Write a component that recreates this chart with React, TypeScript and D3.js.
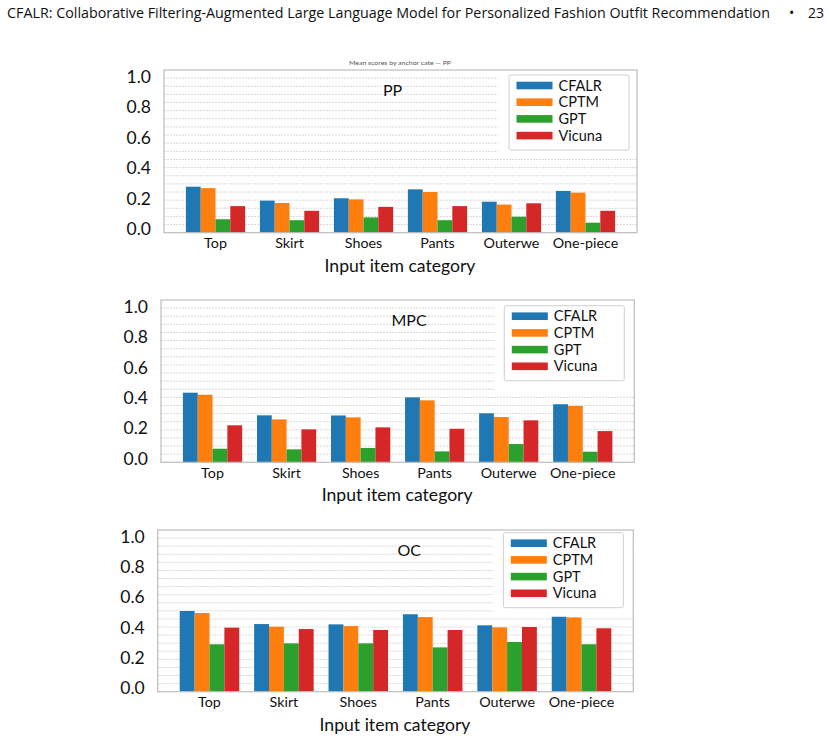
import React from "react";
import * as d3 from "d3";

// data (per category: CFALR, CPTM, GPT, Vicuna)
const categories = ["Top", "Skirt", "Shoes", "Pants", "Outerwe", "One-piece"];
const series = ["CFALR", "CPTM", "GPT", "Vicuna"];
const yTicks = [0, 0.2, 0.4, 0.6, 0.8, 1.0];

const ppValues = [
  [0.294, 0.285, 0.086, 0.17],
  [0.205, 0.19, 0.08, 0.14],
  [0.22, 0.213, 0.098, 0.165],
  [0.277, 0.26, 0.08, 0.17],
  [0.198, 0.18, 0.102, 0.188],
  [0.267, 0.256, 0.064, 0.14],
];
const mpcValues = [
  [0.446, 0.433, 0.087, 0.237],
  [0.301, 0.275, 0.083, 0.211],
  [0.3, 0.288, 0.092, 0.224],
  [0.416, 0.397, 0.07, 0.215],
  [0.314, 0.29, 0.117, 0.269],
  [0.372, 0.361, 0.068, 0.2],
];
const ocValues = [
  [0.519, 0.506, 0.305, 0.412],
  [0.435, 0.418, 0.311, 0.403],
  [0.433, 0.422, 0.311, 0.397],
  [0.498, 0.48, 0.285, 0.397],
  [0.427, 0.414, 0.32, 0.416],
  [0.482, 0.478, 0.305, 0.408],
];

const colors = ["#1f77b4", "#ff7f0e", "#2ca02c", "#d62728"];
const FONT = "Lato, 'Open Sans', sans-serif";

const panels = [
  { name: "PP", values: ppValues, left: 164, right: 637, top: 70, bottom: 232.7, nameX: 383, legendX: 509, legendY: 75, maskX: 498, maskBottom: 155, caption: "Mean scores by anchor cate — PP" },
  { name: "MPC", values: mpcValues, left: 161, right: 634.3, top: 300, bottom: 462.3, nameX: 391.5, legendX: 504.3, legendY: 305.7, maskX: 495, maskBottom: 390, caption: "" },
  { name: "OC", values: ocValues, left: 157.7, right: 633.3, top: 530, bottom: 691.7, nameX: 397.5, legendX: 503.3, legendY: 532.7, maskX: 494, maskBottom: 612, caption: "" },
];

type PanelProps = (typeof panels)[number];

const Panel = ({ p }: { p: PanelProps }) => {
  const x = d3.scaleBand<string>().domain(categories).range([p.left, p.right]).paddingInner(0).paddingOuter(0.196);
  const inner = d3
    .scaleBand<string>()
    .domain(series)
    .range([x.bandwidth() * 0.1, x.bandwidth() * 0.9])
    .padding(0);
  const y = d3.scaleLinear().domain([0, 1.04]).range([p.bottom, p.top]);
  const yLab = d3.scaleLinear().domain([0, 1]).range([p.bottom - 3.5, p.top + 6.5]);
  const grid = d3.scaleLinear().domain([0, 20]).range([p.bottom, p.top]);
  const w = p.right - p.left;
  const midX = (p.left + p.right) / 2;

  return (
    <g>
      <rect x={p.left} y={p.top} width={w} height={p.bottom - p.top} fill="#fff" />
      {d3.range(1, 20).map((k) => (
        <line key={k} x1={p.left} x2={p.right} y1={grid(k)} y2={grid(k)} stroke="#d9d9d9" strokeWidth={1} strokeDasharray="2,1" />
      ))}
      {/* white area behind the legend */}
      <rect x={p.maskX} y={p.top + 0.5} width={p.right - p.maskX - 0.5} height={p.maskBottom - p.top} fill="#fff" />
      {p.values.map((row, i) =>
        row.map((v, j) => (
          <rect
            key={`${i}-${j}`}
            x={(x(categories[i]) as number) + (inner(series[j]) as number)}
            y={y(v)}
            width={inner.bandwidth()}
            height={y(0) - y(v)}
            fill={colors[j]}
          />
        ))
      )}
      <rect x={p.left} y={p.top} width={w} height={p.bottom - p.top} fill="none" stroke="#bdbdbd" strokeWidth={1.2} />
      {yTicks.map((t) => (
        <text key={t} x={p.left - 13} y={yLab(t)} dy="0.35em" textAnchor="end" fontSize={17.5} fontFamily={FONT} fill="#111">
          {t.toFixed(1)}
        </text>
      ))}
      {categories.map((c) => (
        <text key={c} x={(x(c) as number) + x.bandwidth() / 2} y={p.bottom + 10.5} dy="0.35em" textAnchor="middle" fontSize={14.3} fontFamily={FONT} fill="#111">
          {c}
        </text>
      ))}
      <text x={midX - 0.5} y={p.bottom + 33} dy="0.35em" textAnchor="middle" fontSize={17.6} fontFamily={FONT} fill="#111">
        Input item category
      </text>
      <text x={p.nameX} y={p.top + 20} dy="0.35em" textAnchor="start" fontSize={16} fontFamily={FONT} fill="#111">
        {p.name}
      </text>
      {p.caption && (
        <text x={midX - 0.5} y={p.top - 5} textAnchor="middle" fontSize={5} fontFamily={FONT} fill="#555" textLength={102} lengthAdjust="spacingAndGlyphs">
          {p.caption}
        </text>
      )}
      <g transform={`translate(${p.legendX},${p.legendY})`}>
        <rect x={0} y={0} width={120} height={75} rx={2} fill="#fff" stroke="#d0d0d0" strokeWidth={1} />
        {series.map((s, j) => (
          <g key={s} transform={`translate(0,${10.5 + j * 16.7})`}>
            <rect x={7.5} y={-3.8} width={36} height={7.6} fill={colors[j]} />
            <text x={49.5} y={0} dy="0.35em" fontSize={14.5} fontFamily={FONT} fill="#111">
              {s}
            </text>
          </g>
        ))}
      </g>
    </g>
  );
};

export default function App() {
  return (
    <svg width={829} height={739} style={{ position: "absolute", left: 0, top: 0, background: "#fff" }}>
      <rect width={829} height={739} fill="#fff" />
      <text x={7} y={18} fontSize={14} fontFamily="'Open Sans', Lato, sans-serif" fill="#111" textLength={763} lengthAdjust="spacingAndGlyphs">
        CFALR: Collaborative Filtering-Augmented Large Language Model for Personalized Fashion Outfit Recommendation
      </text>
      <text x={789} y={18} fontSize={14} fontFamily="'Open Sans', Lato, sans-serif" fill="#111">•</text>
      <text x={808} y={18} fontSize={14} fontFamily="'Open Sans', Lato, sans-serif" fill="#111">23</text>
      {panels.map((p) => (
        <Panel key={p.name} p={p} />
      ))}
    </svg>
  );
}
